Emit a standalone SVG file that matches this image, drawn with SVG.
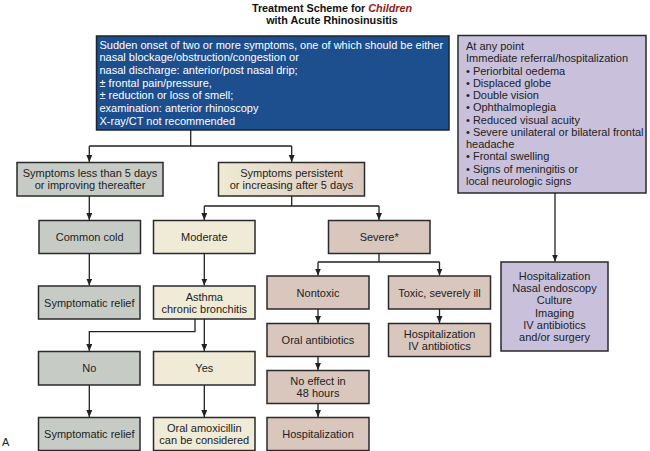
<svg xmlns="http://www.w3.org/2000/svg" width="650" height="451" viewBox="0 0 650 451">
<defs>
<linearGradient id="gPersist" x1="0" y1="0" x2="1" y2="0">
<stop offset="0" stop-color="#eeead4"/>
<stop offset="1" stop-color="#dac7bd"/>
</linearGradient>
<marker id="arr" markerUnits="userSpaceOnUse" markerWidth="8" markerHeight="8" refX="7" refY="3" orient="auto">
<path d="M0,0 L7,3 L0,6 z" fill="#222"/>
</marker>
</defs>
<style>
text{font-family:"Liberation Sans",Arial,sans-serif;font-size:11px;fill:#222}
.c{text-anchor:middle}
.box{stroke:#2a2a2a;stroke-width:1.5}
.gray{fill:#c6ccc5}
.cream{fill:#efebd7}
.rose{fill:#d9c6bc}
.purple{fill:#c9c1dc}
.blue{fill:#1d4f8f;stroke:#1b2535;stroke-width:1.5}
.wt{fill:#ffffff}
.title{font-weight:bold;font-size:10.8px;fill:#111}
.conn path{fill:none;stroke:#222;stroke-width:1.3}
</style>
<rect width="650" height="451" fill="#ffffff"/>

<g id="title">
<text class="c title" x="332" y="12">Treatment Scheme for <tspan font-style="italic" fill="#8a1c1c" style="fill:#8a1c1c">Children</tspan></text>
<text class="c title" x="332" y="24">with Acute Rhinosinusitis</text>
</g>

<g id="n_onset">
<rect class="blue" x="96.5" y="36" width="352.5" height="94"/>
<text class="wt" x="99.5" y="48.5">Sudden onset of two or more symptoms, one of which should be either</text>
<text class="wt" x="99.5" y="61.2">nasal blockage/obstruction/congestion or</text>
<text class="wt" x="99.5" y="74">nasal discharge: anterior/post nasal drip;</text>
<text class="wt" x="99.5" y="86.7">± frontal pain/pressure,</text>
<text class="wt" x="99.5" y="99.4">± reduction or loss of smell;</text>
<text class="wt" x="99.5" y="112.1">examination: anterior rhinoscopy</text>
<text class="wt" x="99.5" y="124.8">X-ray/CT not recommended</text>
</g>

<g id="n_anypoint">
<rect class="box purple" x="458" y="35.5" width="188" height="157.5"/>
<text x="466" y="50">At any point</text>
<text x="466" y="62.25">Immediate referral/hospitalization</text>
<text x="466" y="74.5">• Periorbital oedema</text>
<text x="466" y="86.75">• Displaced globe</text>
<text x="466" y="99">• Double vision</text>
<text x="466" y="111.25">• Ophthalmoplegia</text>
<text x="466" y="123.5">• Reduced visual acuity</text>
<text x="466" y="135.75">• Severe unilateral or bilateral frontal</text>
<text x="466" y="148">headache</text>
<text x="466" y="160.25">• Frontal swelling</text>
<text x="466" y="172.5">• Signs of meningitis or</text>
<text x="466" y="184.75">local neurologic signs</text>
</g>

<g id="n_hospital_right">
<rect class="box purple" x="501" y="262" width="107" height="89"/>
<text class="c" x="554.5" y="279.7">Hospitalization</text>
<text class="c" x="554.5" y="292">Nasal endoscopy</text>
<text class="c" x="554.5" y="304.3">Culture</text>
<text class="c" x="554.5" y="316.6">Imaging</text>
<text class="c" x="554.5" y="328.9">IV antibiotics</text>
<text class="c" x="554.5" y="341.2">and/or surgery</text>
</g>

<g id="n_less5">
<rect class="box gray" x="17" y="162.5" width="146" height="33.5"/>
<text class="c" x="90" y="176.5">Symptoms less than 5 days</text>
<text class="c" x="90" y="188.5">or improving thereafter</text>
</g>

<g id="n_persist">
<rect class="box" fill="url(#gPersist)" x="218.5" y="162.5" width="146" height="33.5"/>
<text class="c" x="291.5" y="177">Symptoms persistent</text>
<text class="c" x="291.5" y="189">or increasing after 5 days</text>
</g>

<g id="n_cold">
<rect class="box gray" x="39" y="220.5" width="101.5" height="33"/>
<text class="c" x="89.7" y="241">Common cold</text>
</g>

<g id="n_moderate">
<rect class="box cream" x="153.5" y="220.5" width="101.5" height="33"/>
<text class="c" x="204.3" y="241">Moderate</text>
</g>

<g id="n_severe">
<rect class="box rose" x="328.5" y="220.5" width="101.5" height="33"/>
<text class="c" x="379.2" y="241">Severe*</text>
</g>

<g id="n_relief1">
<rect class="box gray" x="38.5" y="286" width="101.5" height="33"/>
<text class="c" x="89.3" y="306.5">Symptomatic relief</text>
</g>

<g id="n_asthma">
<rect class="box cream" x="153.5" y="286" width="101.5" height="33"/>
<text class="c" x="204.3" y="300.7">Asthma</text>
<text class="c" x="204.3" y="312.7">chronic bronchitis</text>
</g>

<g id="n_nontoxic">
<rect class="box rose" x="267" y="276" width="102" height="33"/>
<text class="c" x="318" y="296.5">Nontoxic</text>
</g>

<g id="n_toxic">
<rect class="box rose" x="388.5" y="276" width="102" height="33"/>
<text class="c" x="439.5" y="296.5">Toxic, severely ill</text>
</g>

<g id="n_oral">
<rect class="box rose" x="267" y="323.5" width="102" height="33"/>
<text class="c" x="318" y="344">Oral antibiotics</text>
</g>

<g id="n_hospiv">
<rect class="box rose" x="388.5" y="323.5" width="102" height="33"/>
<text class="c" x="439.5" y="338">Hospitalization</text>
<text class="c" x="439.5" y="350">IV antibiotics</text>
</g>

<g id="n_no">
<rect class="box gray" x="38.5" y="351.5" width="101.5" height="33.5"/>
<text class="c" x="89.3" y="372">No</text>
</g>

<g id="n_yes">
<rect class="box cream" x="153.5" y="351.5" width="101.5" height="33.5"/>
<text class="c" x="204.3" y="372">Yes</text>
</g>

<g id="n_noeffect">
<rect class="box rose" x="267" y="370.5" width="102" height="33"/>
<text class="c" x="318" y="385">No effect in</text>
<text class="c" x="318" y="397">48 hours</text>
</g>

<g id="n_relief2">
<rect class="box gray" x="38.5" y="417.5" width="101.5" height="33"/>
<text class="c" x="89.3" y="438">Symptomatic relief</text>
</g>

<g id="n_amox">
<rect class="box cream" x="153.5" y="417.5" width="101.5" height="33"/>
<text class="c" x="204.3" y="432">Oral amoxicillin</text>
<text class="c" x="204.3" y="444">can be considered</text>
</g>

<g id="n_hosp">
<rect class="box rose" x="267" y="417.5" width="102" height="33"/>
<text class="c" x="318" y="438">Hospitalization</text>
</g>

<g id="label_a">
<text x="2" y="446">A</text>
</g>

<g id="connectors" class="conn">
<path d="M190.7,130 V146 M89.3,146 H291.7"/>
<path d="M89.3,146 V162" marker-end="url(#arr)"/>
<path d="M291.7,146 V162" marker-end="url(#arr)"/>
<path d="M89.3,196 V220" marker-end="url(#arr)"/>
<path d="M291.7,196 V206 M204.3,206 H379"/>
<path d="M204.3,206 V220" marker-end="url(#arr)"/>
<path d="M379,206 V220" marker-end="url(#arr)"/>
<path d="M89.3,253.5 V285.5" marker-end="url(#arr)"/>
<path d="M204.3,253.5 V285.5" marker-end="url(#arr)"/>
<path d="M379,253.5 V262 M318,262 H439.5"/>
<path d="M318,262 V275.5" marker-end="url(#arr)"/>
<path d="M439.5,262 V275.5" marker-end="url(#arr)"/>
<path d="M195,319 V331.7 H89.3 V351" marker-end="url(#arr)"/>
<path d="M204.3,319 V351" marker-end="url(#arr)"/>
<path d="M89.3,385 V417" marker-end="url(#arr)"/>
<path d="M204.3,385 V417" marker-end="url(#arr)"/>
<path d="M318,309 V323" marker-end="url(#arr)"/>
<path d="M318,356.5 V370" marker-end="url(#arr)"/>
<path d="M318,403.5 V417" marker-end="url(#arr)"/>
<path d="M439.5,309 V323" marker-end="url(#arr)"/>
<path d="M555,193 V261.5" marker-end="url(#arr)"/>
</g>
</svg>
